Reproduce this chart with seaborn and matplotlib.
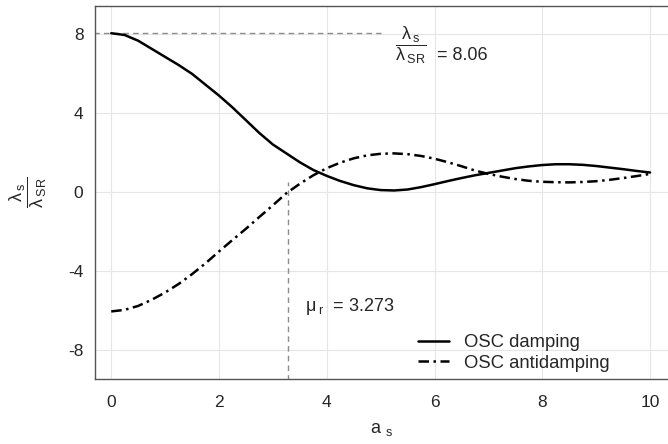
import pandas as pd
import seaborn as sns
import matplotlib.pyplot as plt

# values at 0.25 steps
a_s = [0.0, 0.25, 0.5, 0.75, 1.0, 1.25, 1.5, 1.75, 2.0, 2.25, 2.5, 2.75, 3.0, 3.25,
       3.5, 3.75, 4.0, 4.25, 4.5, 4.75, 5.0, 5.25, 5.5, 5.75, 6.0, 6.25, 6.5, 6.75,
       7.0, 7.25, 7.5, 7.75, 8.0, 8.25, 8.5, 8.75, 9.0, 9.25, 9.5, 9.75, 10.0]
damping = [8.06, 7.97, 7.68, 7.27, 6.86, 6.45, 6.0, 5.45, 4.9, 4.3, 3.65, 3.0, 2.42, 1.97,
           1.52, 1.13, 0.83, 0.57, 0.36, 0.2, 0.11, 0.09, 0.14, 0.26, 0.41, 0.57, 0.72, 0.86,
           0.98, 1.1, 1.22, 1.31, 1.38, 1.42, 1.42, 1.39, 1.33, 1.25, 1.17, 1.08, 1.0]
antidamping = [-6.04, -5.96, -5.76, -5.45, -5.08, -4.65, -4.15, -3.6, -3.0, -2.42, -1.85, -1.25, -0.66, -0.05,
               0.43, 0.86, 1.22, 1.5, 1.72, 1.87, 1.95, 1.97, 1.93, 1.84, 1.7, 1.52, 1.32, 1.1,
               0.93, 0.79, 0.67, 0.58, 0.53, 0.51, 0.5, 0.52, 0.56, 0.63, 0.72, 0.82, 0.93]
ratio_peak = 8.06
mu_r = 3.273

sns.set_style('whitegrid')
plt.rcParams['font.family'] = ['Liberation Sans', 'DejaVu Sans']
plt.rcParams['mathtext.fontset'] = 'custom'
plt.rcParams['mathtext.rm'] = 'Liberation Sans'
plt.rcParams['mathtext.it'] = 'Liberation Sans'
plt.rcParams['mathtext.bf'] = 'Liberation Sans:bold'
plt.rcParams['axes.unicode_minus'] = False

df = pd.DataFrame({'a_s': a_s, 'damping': damping, 'antidamping': antidamping})

fig = plt.figure(figsize=(6.68, 4.44), dpi=100)
ax = fig.add_axes([0.1415, 0.1457, 0.8595, 0.8408])

# guide lines
ax.plot([-0.5, 5.0], [ratio_peak, ratio_peak], color='#8c8c8c', lw=1, ls=(0, (4, 3)))
ax.plot([mu_r, mu_r], [-10, 0.5], color='#8c8c8c', lw=1, ls=(0, (4, 3)))

sns.lineplot(data=df, x='a_s', y='damping', ax=ax, color='black', lw=1.8,
             label='OSC damping')
sns.lineplot(data=df, x='a_s', y='antidamping', ax=ax, color='black', lw=1.8,
             linestyle=(0, (4.2, 1.8, 1, 1.8)), label='OSC antidamping')

ax.set_xlim(-0.31, 10.345)
ax.set_ylim(-9.48, 9.44)
ax.set_xticks([0, 2, 4, 6, 8, 10])
ax.set_yticks([-8, -4, 0, 4, 8])
ax.grid(True, color='#e6e6e6', lw=0.8)
for s in ax.spines.values():
    s.set_color('#555555')
    s.set_linewidth(1.0)
ax.tick_params(axis='both', direction='in', length=4, width=0.8, color='#555555',
               labelsize=12.5, labelcolor='#262626')
ax.tick_params(axis='x', pad=11)
ax.tick_params(axis='y', pad=8)

frac = r'$\dfrac{\lambda\,_{\rm s}}{\lambda\,_{\rm SR}}$'

ax.set_xlabel(r'a $_{\rm s}$', fontsize=13, color='#262626')
ax.xaxis.set_label_coords(0.5, -0.144)
ax.xaxis.label.set_va('baseline')
ax.set_ylabel(frac, fontsize=13, color='#262626')
ax.yaxis.set_label_coords(-0.116, 0.5)
ax.yaxis.label.set_va('center')

ax.text(5.56, 7.46, frac, fontsize=13, va='center', ha='center', color='#262626')
ax.text(6.05, 6.91, '= 8.06', fontsize=13, va='center', ha='left', color='#262626')
ax.text(3.59, -6.02, r'$\mu\,_{\rm r}$' + '  = 3.273', fontsize=13,
        va='baseline', ha='left', color='#262626')

ax.legend(loc='upper left', bbox_to_anchor=(0.55, 0.14), frameon=False,
          fontsize=13.3, handlelength=1.7, handletextpad=0.8, labelspacing=0.18,
          borderaxespad=0)

fig.savefig('out.png', dpi=100)
